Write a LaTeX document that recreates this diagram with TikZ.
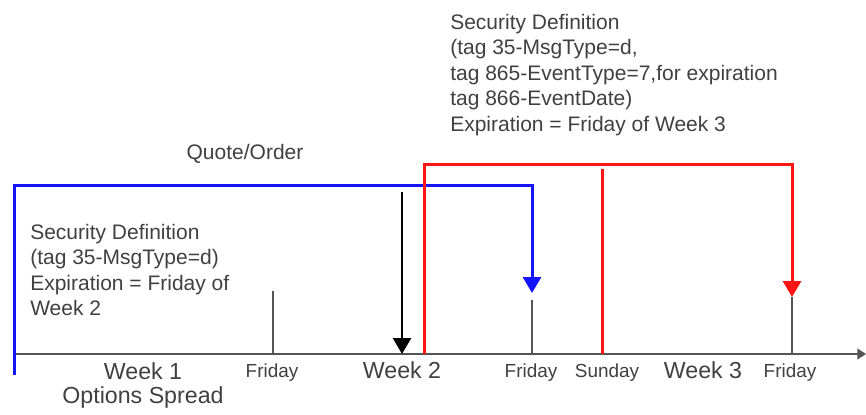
\documentclass[tikz,border=0pt]{standalone}
\usepackage{fontspec}
\setmainfont{Liberation Sans}
\usetikzlibrary{arrows.meta,positioning}
\definecolor{textgray}{HTML}{404040}
\definecolor{axisgray}{HTML}{555555}
\definecolor{defblue}{HTML}{1414FF}
\definecolor{defred}{HTML}{FF1414}
\tikzset{
    note/.style={anchor=north west, inner sep=0pt, align=left, text=textgray,
        font=\fontsize{15.75pt}{19.1pt}\selectfont}, % the two text blocks
    week/.style={anchor=base, inner sep=0pt, text=textgray,
        font=\fontsize{17.4pt}{20pt}\selectfont},
    day/.style={anchor=base, inner sep=0pt, text=textgray,
        font=\fontsize{14.2pt}{17pt}\selectfont},
    tick/.style={axisgray, line width=1.5pt},
    bigtip/.style={-{Triangle[width=13.5pt,length=12pt]}},
}
\tikzstyle{timeline} = [axisgray, line width=1.6pt, -{Triangle[width=8pt,length=6.5pt]}]
\tikzstyle{defline} = [line width=2.25pt, bigtip]

\begin{document}
\begin{tikzpicture}[x=0.75pt, y=-0.75pt]
    \useasboundingbox (0,0) rectangle (866,414);

    % texts
    \node[note] (sdtop) at (450,13.7) {Security Definition\\(tag 35-MsgType=d,\\tag 865-EventType=7,for expiration\\tag 866-EventDate)\\Expiration = Friday of Week 3};
    \node[note] (sdleft) at (30,224) {Security Definition\\(tag 35-MsgType=d)\\Expiration = Friday of\\Week 2};
    \node[anchor=base, inner sep=0pt, text=textgray, font=\fontsize{15.75pt}{19pt}\selectfont] (qo) at (245,159) {Quote/Order};

    \node[week] (w1) at (143,379) {Week 1};
    \node[week] (spread) at (143,403) {Options Spread};
    \node[week] (w2) at (402,378) {Week 2};
    \node[week] (w3) at (703,378) {Week 3};
    \node[day] (fri1) at (272,377) {Friday};
    \node[day] (fri2) at (531,377) {Friday};
    \node[day] (sun) at (607,377) {Sunday};
    \node[day] (fri3) at (790,377) {Friday};

    % points on the time axis
    \coordinate (t0) at (14,354);
    \coordinate (tend) at (866,354);
    \coordinate (f1top) at (273,291);
    \coordinate (f1) at (273,354);
    \coordinate (f2top) at (532,300);
    \coordinate (f2) at (532,354);
    \coordinate (f3top) at (792,297);
    \coordinate (f3) at (792,354);
    \coordinate (qtop) at (402,192);
    \coordinate (q) at (402,354);
    \coordinate (suntop) at (602,169);
    \coordinate (sunbot) at (602,354);
    \coordinate (blow) at (14,375);
    \coordinate (bcorner) at (532,185);
    \coordinate (bend) at (532,293);
    \coordinate (rlow) at (424,354);
    \coordinate (rcorner) at (792,164);
    \coordinate (rend) at (792,297);

    \draw[timeline] (t0) -- (tend);
    \draw[tick] (f1top) -- (f1);
    \draw[tick] (f2top) -- (f2);
    \draw[tick] (f3top) -- (f3);

    \draw[defline, defblue] (blow) |- (bcorner) -- (bend);
    \draw[defline, defred] (rlow) |- (rcorner) -- (rend);
    \draw[defred, line width=2.25pt] (suntop) -- (sunbot);
    \draw[black, line width=1.9pt, bigtip] (qtop) -- (q);
\end{tikzpicture}
\end{document}
